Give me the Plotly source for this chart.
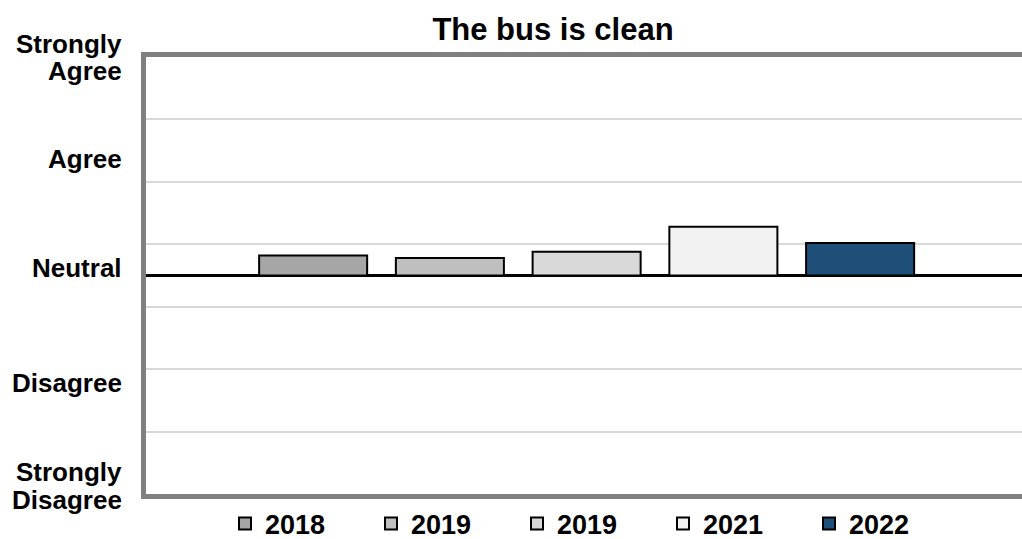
import plotly.graph_objects as go

# ---- data ----
series_names = ["2018", "2019", "2019", "2021", "2022"]
series_values = [0.16, 0.14, 0.19, 0.39, 0.26]
series_colors = ["#a6a6a6", "#bfbfbf", "#d9d9d9", "#f2f2f2", "#1f4e79"]
category = ["The bus is clean"]
scale_labels = ["Strongly", "Agree", "Agree", "Neutral", "Disagree", "Strongly", "Disagree"]
scale_label_px = [44, 71, 159, 267.5, 383, 471.5, 500]  # pixel centre of each label line

W, H = 1022, 539
M_L, M_R, M_T, M_B = 146, 0, 57, 45
plot_h = H - M_T - M_B

FONT = "Arial, 'Liberation Sans', sans-serif"

fig = go.Figure()
for name, val, col in zip(series_names, series_values, series_colors):
    fig.add_trace(go.Bar(
        x=category, y=[val], name=name,
        marker=dict(color=col, line=dict(color="#000000", width=2)),
        hoverinfo="name+y",
    ))

annotations = []
for txt, py in zip(scale_labels, scale_label_px):
    annotations.append(dict(
        text=txt, xref="paper", yref="paper",
        x=0, xshift=-22, xanchor="right",
        y=(H - M_B - py) / plot_h, yanchor="middle",
        showarrow=False,
        font=dict(family=FONT, size=26, color="#000000", weight="bold"),
    ))

fig.update_layout(
    width=W, height=H,
    margin=dict(l=M_L, r=M_R, t=M_T, b=M_B),
    paper_bgcolor="white", plot_bgcolor="white",
    barmode="group", bargap=0.2195, bargroupgap=0.21,
    title=dict(text="The bus is clean", x=553 / W, xref="container", xanchor="center",
               y=1 - 29 / H, yref="container", yanchor="middle",
               font=dict(family=FONT, size=31, color="#000000", weight="bold")),
    xaxis=dict(range=[-0.503, 0.497], showticklabels=False, ticks="",
               showline=True, linecolor="#808080", linewidth=5, mirror=True,
               showgrid=False, zeroline=False, fixedrange=True),
    yaxis=dict(range=[-1.75, 1.75], tickvals=[-1.25, -0.75, -0.25, 0.25, 0.75, 1.25],
               showticklabels=False, ticks="",
               showgrid=True, gridcolor="#d9d9d9", gridwidth=2,
               zeroline=True, zerolinecolor="#000000", zerolinewidth=2.5,
               showline=True, linecolor="#808080", linewidth=5,
               fixedrange=True),
    legend=dict(orientation="h", x=590 / W, xanchor="center", xref="container",
                y=1 - 524 / H, yref="container", yanchor="middle",
                font=dict(family=FONT, size=27, color="#000000", weight="bold"),
                entrywidth=101, itemclick=False, itemdoubleclick=False),
    annotations=annotations,
    showlegend=True,
)

fig.write_html("out.html", config={"displayModeBar": False},
               post_script="document.body.style.margin='0px';document.body.style.overflow='hidden';")
